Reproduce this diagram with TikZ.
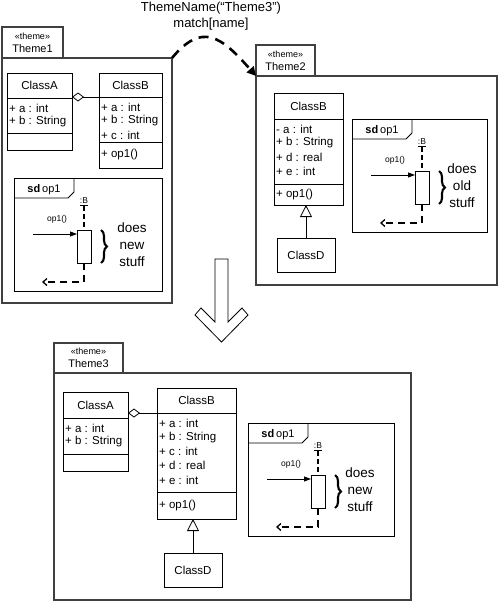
\documentclass[tikz,border=0pt]{standalone}
\usepackage{fontspec}
\setmainfont{Liberation Sans}
\usetikzlibrary{arrows.meta,decorations.pathreplacing}

\begin{document}
\begin{tikzpicture}[x=1pt,y=-1pt]

\tikzset{
    pkgline/.style={draw=black!75, line width=1.1pt},
    pkgtab/.style={
        pkgline,
        anchor=north west,
        inner sep=0pt,
        outer sep=0pt,
        align=center,
        font=\fontsize{11}{13}\selectfont
    },
    pkgbody/.style={pkgline, anchor=north west, inner sep=0pt, outer sep=0pt},
    comp/.style={
        draw,
        line width=0.8pt,
        anchor=north west,
        inner sep=0pt,
        outer sep=0pt,
        font=\fontsize{11.5}{14}\selectfont
    },
    attr/.style={anchor=west, inner sep=0pt, font=\fontsize{11.5}{14}\selectfont},
    aggr/.style={{Diamond[open,length=12pt,width=9pt]}-, line width=0.8pt},
    gen/.style={-{Triangle[open,length=12pt,width=12pt]}, line width=0.8pt},
    sdframe/.style={draw, line width=0.9pt, anchor=north west, inner sep=0pt,
        outer sep=0pt, minimum height=113},
    sdname/.style={font=\fontsize{11}{13}\selectfont, inner sep=0pt},
    lifelbl/.style={font=\fontsize{8.5}{10}\selectfont, inner sep=0pt},
    msglbl/.style={font=\fontsize{8.5}{10}\selectfont, inner sep=0pt},
    activation/.style={draw, line width=0.8pt, anchor=north west, inner sep=0pt,
        outer sep=0pt, minimum width=14, minimum height=33},
    lifeline/.style={line width=1.3pt, dash pattern=on 5pt off 3pt},
    callmsg/.style={-{Triangle[length=7pt,width=5pt]}, line width=0.8pt},
    retmsg/.style={-{Straight Barb[length=4pt,width=7pt]}, line width=1.3pt,
        dash pattern=on 7pt off 5pt},
    bracedeco/.style={decorate, decoration={brace,amplitude=6pt}, line width=2.1pt},
    note/.style={align=center, font=\fontsize{13.5}{17}\selectfont, inner sep=0pt},
    themearrow/.style={-{Triangle[length=9pt,width=9pt]}, line width=2.6pt,
        dash pattern=on 10pt off 7pt}
}

\useasboundingbox (0,0) rectangle (500,602);

% Condition text
\node[align=center, font=\fontsize{13}{16}\selectfont, inner sep=0pt] (cond)
    at (211,16) {ThemeName(“Theme3”)\\match[name]};

% Package Theme1
\node[pkgbody, minimum width=170, minimum height=245] (t1body) at (2,58) {};
\node[pkgtab, minimum width=61, minimum height=31] (t1tab) at (2,27)
    {{\fontsize{9}{13}\selectfont «theme»}\\Theme1};

\node[comp, minimum width=65, minimum height=25] (a1name) at (7,73) {ClassA};
\node[comp, minimum width=65, minimum height=35] (a1attr) at (a1name.south west) {};
\node[comp, minimum width=65, minimum height=17] (a1ops) at (a1attr.south west) {};
\foreach \t [count=\i] in {+ a : int, + b : String}
    \node[attr] at ([xshift=2pt,yshift={-14*\i+4}]a1attr.north west) {\t};

\node[comp, minimum width=63, minimum height=24] (b1name) at (99,73) {ClassB};
\node[comp, minimum width=63, minimum height=45] (b1attr) at (b1name.south west) {};
\node[comp, minimum width=63, minimum height=26] (b1ops) at (b1attr.south west) {};
\foreach \t [count=\i] in {+ a : int, + b : String, + c : int}
    \node[attr] at ([xshift=2pt,yshift={-14*\i+4}]b1attr.north west) {\t};
\node[attr] at ([xshift=2pt]b1ops.west) {+ op1()};

\draw[aggr] (a1name.east |- b1name.south) -- (b1name.south west);

% Package Theme2
\node[pkgbody, minimum width=241, minimum height=209] (t2body) at (256,76) {};
\node[pkgtab, minimum width=59, minimum height=31] (t2tab) at (256,45)
    {{\fontsize{9}{13}\selectfont «theme»}\\Theme2};

\node[comp, minimum width=69, minimum height=26] (b2name) at (274,93) {ClassB};
\node[comp, minimum width=69, minimum height=65] (b2attr) at (b2name.south west) {};
\node[comp, minimum width=69, minimum height=21] (b2ops) at (b2attr.south west) {};
\foreach \t [count=\i] in {- a : int, + b : String, + d : real, + e : int}
    \node[attr] at ([xshift=2pt,yshift={-14*\i+4}]b2attr.north west) {\t};
\node[attr] at ([xshift=2pt]b2ops.west) {+ op1()};

\node[comp, minimum width=58, minimum height=34] (d2) at (277,238) {ClassD};
\draw[gen] (d2.north) -- (d2.north |- b2ops.south);

% Package Theme3
\node[pkgbody, minimum width=357, minimum height=227] (t3body) at (54,373) {};
\node[pkgtab, minimum width=69, minimum height=30] (t3tab) at (54,343)
    {{\fontsize{9}{13}\selectfont «theme»}\\Theme3};

\node[comp, minimum width=65, minimum height=26] (a3name) at (63,392) {ClassA};
\node[comp, minimum width=65, minimum height=36] (a3attr) at (a3name.south west) {};
\node[comp, minimum width=65, minimum height=17] (a3ops) at (a3attr.south west) {};
\foreach \t [count=\i] in {+ a : int, + b : String}
    \node[attr] at ([xshift=2pt,yshift={-14*\i+4}]a3attr.north west) {\t};

\node[comp, minimum width=79, minimum height=25] (b3name) at (157,388) {ClassB};
\node[comp, minimum width=79, minimum height=79] (b3attr) at (b3name.south west) {};
\node[comp, minimum width=79, minimum height=27] (b3ops) at (b3attr.south west) {};
\foreach \t [count=\i] in {+ a : int, + b : String, + c : int, + d : real, + e : int}
    \node[attr] at ([xshift=2pt,yshift={-14.2*\i+4}]b3attr.north west) {\t};
\node[attr] at ([xshift=2pt]b3ops.west) {+ op1()};

\node[comp, minimum width=58, minimum height=34] (d3) at (164,553) {ClassD};
\draw[gen] (d3.north) -- (d3.north |- b3ops.south);

\draw[aggr] (a3name.east |- b3name.south) -- (b3name.south west);

% Sequence frames
\foreach \n/\fx/\fy/\fw/\tx/\what in {1/14/178/148/118/new,
                                      2/352/119/135/110/old,
                                      3/248/423/146/112/new}{
    \begin{scope}[shift={(\fx,\fy)}]
        \node[sdframe, minimum width=\fw] (sd\n) at (0,0) {};
        \draw[line width=0.9pt] (sd\n.north west) ++(0,20) -- ++(54,0)
            -- ++(6,-6) -- ++(0,-14);
        \node[sdname] (sdlbl\n) at (30,12) {\textbf{sd}\,op1};
        \node[lifelbl] (lbl\n) at (70,24) {\underline{:B}};
        \node[activation] (act\n) at (63,52) {};
        \coordinate (in\n) at (19,56);
        \coordinate (ret\n) at (28,104);
        \draw[lifeline] (lbl\n.south -| act\n.north) -- (act\n.north);
        \draw[callmsg] (in\n) -- (in\n -| act\n.west);
        \node[msglbl] (call\n) at (43,41) {op1()};
        \draw[retmsg] (act\n.south) |- (ret\n);
        \draw[bracedeco] ([xshift=10pt]act\n.north east)
            -- ([xshift=10pt]act\n.south east);
        \node[note] (note\n) at (\tx,67) {does\\\what\\stuff};
    \end{scope}
}

% Theme arrow
\draw[themearrow] (t1body.north east) .. controls (202,22) and (221,36)
    .. (t2body.north west);

% Big hollow arrow
\draw[line width=0.8pt] (215,259) -- (228,259) -- (228,322) -- (242,308)
    -- (248,315) -- (221.5,342) -- (195,315) -- (201,308) -- (215,322) -- cycle;

\end{tikzpicture}
\end{document}
